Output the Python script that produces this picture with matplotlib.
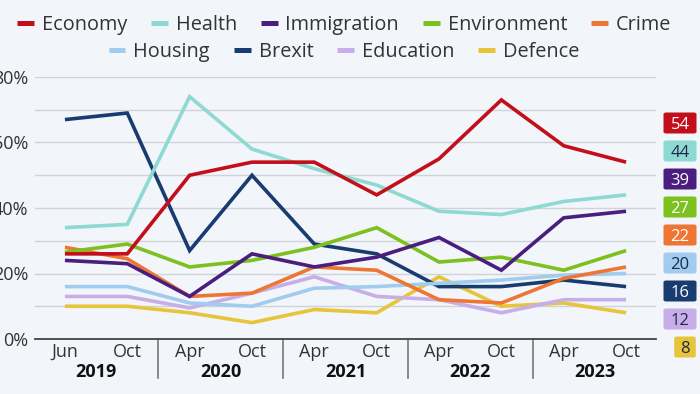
import matplotlib
matplotlib.use("Agg")
import matplotlib.pyplot as plt
from matplotlib.patches import FancyBboxPatch
from matplotlib.lines import Line2D
import numpy as np

plt.rcParams['font.family'] = ['Open Sans', 'DejaVu Sans']

months = ["Jun", "Oct", "Apr", "Oct", "Apr", "Oct", "Apr", "Oct", "Apr", "Oct"]
years = ["2019", "2020", "2021", "2022", "2023"]

series_names = ["Economy", "Health", "Immigration", "Environment", "Crime",
                "Housing", "Brexit", "Education", "Defence"]
economy = [26, 26, 50, 54, 54, 44, 55, 73, 59, 54]
health = [34, 35, 74, 58, 52, 47, 39, 38, 42, 44]
immigration = [24, 23, 13, 26, 22, 25, 31, 21, 37, 39]
environment = [26.5, 29, 22, 24, 28, 34, 23.5, 25, 21, 27]
crime = [28, 24.5, 13, 14, 22, 21, 12, 11, 18.5, 22]
housing = [16, 16, 11, 10, 15.5, 16, 17, 18, 19.5, 20]
brexit = [67, 69, 27, 50, 29, 26, 16, 16, 18, 16]
education = [13, 13, 9.5, 14, 19, 13, 12, 8, 12, 12]
defence = [10, 10, 8, 5, 9, 8, 19, 10, 11, 8]
series_values = [economy, health, immigration, environment, crime,
                 housing, brexit, education, defence]
colors = ["#C30F1C", "#8FD9D3", "#4A1E7E", "#7CC11F", "#EE7633",
          "#A2CCEF", "#183B70", "#C8AEE8", "#E6C53A"]
label_text_colors = ["white", "#1b2a4a", "white", "white", "white",
                     "#1b2a4a", "white", "#1b2a4a", "#1b2a4a"]

BG = "#F2F5F9"
W, H = 700, 394
fig = plt.figure(figsize=(7, 3.94), dpi=100, facecolor=BG)
ax = fig.add_axes([35 / W, 1 - 339 / H, (656 - 35) / W, (339 - 77) / H])
ax.set_facecolor(BG)

x = np.arange(len(months))
for name, vals, c in reversed(list(zip(series_names, series_values, colors))):
    ax.plot(x, vals, color=c, lw=2.6, solid_joinstyle='miter', solid_capstyle='butt',
            zorder=3)

ax.set_xlim(-0.48, len(months) - 1 + 0.48)
ax.set_ylim(0, 80)
ax.set_yticks(np.arange(0, 81, 10))
ax.set_yticklabels([f"{v}%" if v % 20 == 0 else "" for v in range(0, 81, 10)])
ax.grid(axis='y', color='#cfd3d8', lw=1.0, zorder=1)
ax.tick_params(axis='y', length=0, labelsize=13, labelcolor='#333333', pad=5)
ax.set_xticks(x)
ax.set_xticklabels(months)
ax.tick_params(axis='x', length=0, labelsize=13, labelcolor='#333333', pad=3)
for s in ['top', 'right', 'left']:
    ax.spines[s].set_visible(False)
ax.spines['bottom'].set_color('#444444')
ax.spines['bottom'].set_linewidth(1.3)
ax.spines['bottom'].set_zorder(4)

# year separators and labels
trans = ax.get_xaxis_transform()
for i in range(1, len(years)):
    xs = 2 * i - 0.5
    ax.plot([xs, xs], [0, -39 / 262], transform=trans, color='#777777', lw=1.2,
            clip_on=False, zorder=4)
for i, yr in enumerate(years):
    ax.text(2 * i + 0.5, -33 / 262, yr, transform=trans, ha='center', va='center',
            fontsize=13, fontweight='bold', color='#111111')

# legends
handles = [Line2D([0], [0], color=c, lw=3.6, solid_capstyle='butt') for c in colors]
leg_kw = dict(frameon=False, fontsize=14.3, handlelength=0.85, handletextpad=0.4,
              columnspacing=1.2, borderpad=0, borderaxespad=0, labelcolor='#333333')
leg1 = fig.legend(handles[:5], series_names[:5], loc='center', ncol=5,
                  bbox_to_anchor=(344 / W, 1 - 25 / H), **leg_kw)
leg2 = fig.legend(handles[5:], series_names[5:], loc='center', ncol=4,
                  bbox_to_anchor=(344 / W, 1 - 52 / H), **leg_kw)

# right-hand value labels
for k, (vals, c, tc) in enumerate(zip(series_values, colors, label_text_colors)):
    txt = f"{vals[-1]:g}"
    yc = 123 + 28.0 * k
    bw = 10 + 11.5 * len(txt)
    bh = 21
    xc = 680 if len(txt) > 1 else 685
    patch = FancyBboxPatch(((xc - bw / 2) / W, 1 - (yc + bh / 2) / H), bw / W, bh / H,
                           boxstyle="round,pad=0,rounding_size=0.004",
                           transform=fig.transFigure, facecolor=c, edgecolor='none')
    fig.patches.append(patch)
    fig.text(xc / W, 1 - yc / H, txt, ha='center', va='center_baseline', fontsize=12,
             color=tc)

fig.savefig("out.png", dpi=100, facecolor=BG)
